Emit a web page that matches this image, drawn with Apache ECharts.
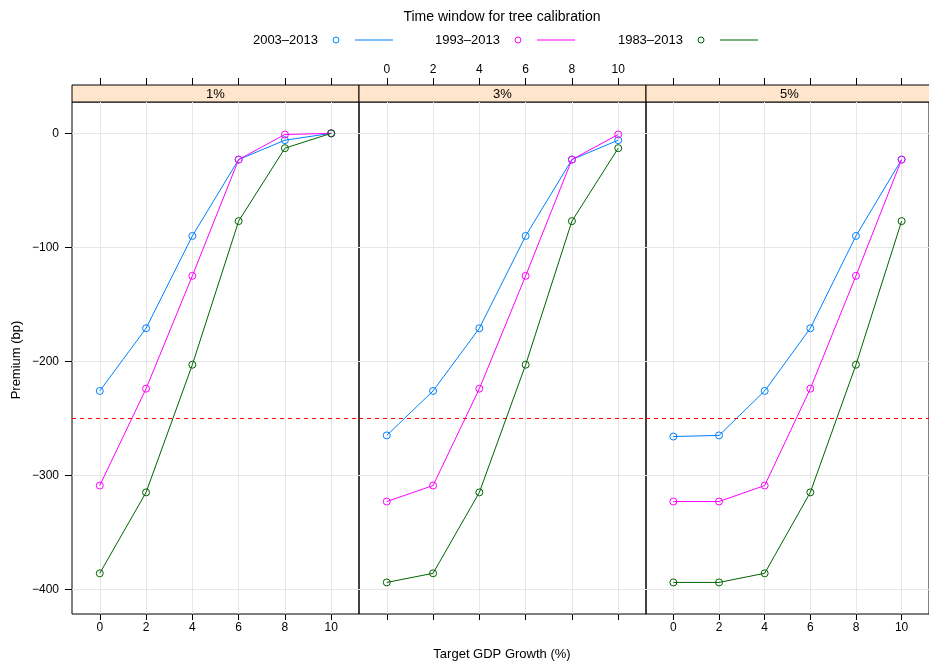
<!DOCTYPE html>
<html>
<head>
<meta charset="utf-8">
<script src="https://cdn.jsdelivr.net/npm/echarts@6/dist/echarts.min.js"></script>
<style>
  html, body { margin: 0; padding: 0; background: #fff; }
  #chart { width: 929px; height: 666px; }
</style>
</head>
<body>
<div id="chart"></div>
<script>
var myChart = echarts.init(document.getElementById('chart'))

// data
var gdpGrowth = [0, 2, 4, 6, 8, 10]
var panels = ['1%', '3%', '5%']
var windows = ['2003\u20132013', '1993\u20132013', '1983\u20132013']
var colors = ['#0080ff', '#ff00ff', '#006400']
var threshold = -250

var p1_2003 = [-226, -171, -90, -23, -6, 0]
var p1_1993 = [-309, -224, -125, -23, -1, 0]
var p1_1983 = [-386, -315, -203, -77, -13, 0]
var p3_2003 = [-265, -226, -171, -90, -23, -6]
var p3_1993 = [-323, -309, -224, -125, -23, -1]
var p3_1983 = [-394, -386, -315, -203, -77, -13]
var p5_2003 = [-266, -265, -226, -171, -90, -23]
var p5_1993 = [-323, -323, -309, -224, -125, -23]
var p5_1983 = [-394, -394, -386, -315, -203, -77]

var panelData = [
  [p1_2003, p1_1993, p1_1983],
  [p3_2003, p3_1993, p3_1983],
  [p5_2003, p5_1993, p5_1983],
]
var yTicks = [0, -100, -200, -300, -400]

var font = 'Liberation Sans, Arial, sans-serif'
var panelLeft = [72, 359, 646]
var panelW = 287
var panelTop = 102
var panelH = 512

var grids = [], xAxes = [], yAxes = [], series = [], graphics = []

panels.forEach(function (name, p) {
  grids.push({
    left: panelLeft[p], top: panelTop, width: panelW, height: panelH,
    show: true, borderColor: '#000', borderWidth: 1, backgroundColor: 'transparent',
  })
  // bottom axis: labels on panels 1 and 3
  xAxes.push({
    type: 'value', gridIndex: p, position: 'bottom', min: -1.2, max: 11.2,
    axisLine: { show: false, onZero: false },
    axisTick: { show: true, length: 6, customValues: gdpGrowth, lineStyle: { color: '#000' } },
    axisLabel: { show: p !== 1, customValues: gdpGrowth, color: '#000', fontSize: 12, fontFamily: font, margin: 8 },
    splitLine: { show: true, lineStyle: { color: '#e6e6e6', width: 1 } },
  })
  // top axis above the strip: labels on panel 2
  xAxes.push({
    type: 'value', gridIndex: p, position: 'top', offset: 17, min: -1.2, max: 11.2,
    axisLine: { show: false, onZero: false },
    axisTick: { show: true, length: 7, customValues: gdpGrowth, lineStyle: { color: '#000' } },
    axisLabel: { show: p === 1, customValues: gdpGrowth, color: '#000', fontSize: 12, fontFamily: font, margin: 9 },
    splitLine: { show: false },
  })
  yAxes.push({
    type: 'value', gridIndex: p, position: 'left', min: -421.7, max: 27.5,
    axisLine: { show: false, onZero: false },
    axisTick: { show: p === 0, length: 7, customValues: yTicks, lineStyle: { color: '#000' } },
    axisLabel: {
      show: p === 0, customValues: yTicks, color: '#000', fontSize: 12, fontFamily: font, margin: 13,
      formatter: function (v) { return String(v).replace('-', '\u2212') },
    },
    splitLine: { show: true, lineStyle: { color: '#e6e6e6', width: 1 } },
  })

  panelData[p].forEach(function (vals, s) {
    var ser = {
      name: windows[s], type: 'line', xAxisIndex: p * 2, yAxisIndex: p,
      data: gdpGrowth.map(function (g, i) { return [g, vals[i]] }),
      symbol: 'circle', symbolSize: 7, showSymbol: true,
      lineStyle: { color: colors[s], width: 1 },
      itemStyle: { color: 'rgba(0,0,0,0)', borderColor: colors[s], borderWidth: 1 },
      z: 3 + s,
    }
    if (s === 0) {
      ser.markLine = {
        silent: true, symbol: 'none', label: { show: false },
        lineStyle: { color: 'red', type: [4, 4], width: 1 },
        data: [{ yAxis: threshold }],
      }
    }
    series.push(ser)
  })

  // strip
  graphics.push({
    type: 'rect', shape: { x: panelLeft[p], y: 85, width: panelW, height: 17 },
    style: { fill: '#ffe5cc', stroke: '#000', lineWidth: 1 },
  })
  graphics.push({
    type: 'text', x: panelLeft[p] + panelW / 2, y: 94,
    style: { text: name, fill: '#000', font: '13px ' + font, textAlign: 'center', textVerticalAlign: 'middle' },
  })
})

// legend / key
graphics.push({
  type: 'text', x: 502, y: 17,
  style: { text: 'Time window for tree calibration', fill: '#000', font: '14px ' + font, textAlign: 'center', textVerticalAlign: 'middle' },
})
var keyX = [318, 500, 683]
windows.forEach(function (w, s) {
  var x = keyX[s]
  graphics.push({
    type: 'text', x: x, y: 40,
    style: { text: w, fill: '#000', font: '13px ' + font, textAlign: 'right', textVerticalAlign: 'middle' },
  })
  graphics.push({
    type: 'circle', shape: { cx: x + 18, cy: 40, r: 3 },
    style: { fill: 'none', stroke: colors[s], lineWidth: 1 },
  })
  graphics.push({
    type: 'line', shape: { x1: x + 37, y1: 40, x2: x + 75, y2: 40 },
    style: { stroke: colors[s], lineWidth: 1 },
  })
})
graphics.push({
  type: 'text', x: 502, y: 654,
  style: { text: 'Target GDP Growth (%)', fill: '#000', font: '13px ' + font, textAlign: 'center', textVerticalAlign: 'middle' },
})
graphics.push({
  type: 'text', x: 16, y: 360, rotation: Math.PI / 2,
  style: { text: 'Premium (bp)', fill: '#000', font: '13px ' + font, textAlign: 'center', textVerticalAlign: 'middle' },
})

var option = {
  animation: false,
  backgroundColor: '#fff',
  grid: grids,
  xAxis: xAxes,
  yAxis: yAxes,
  series: series,
  graphic: graphics,
}

myChart.setOption(option)
</script>
</body>
</html>
